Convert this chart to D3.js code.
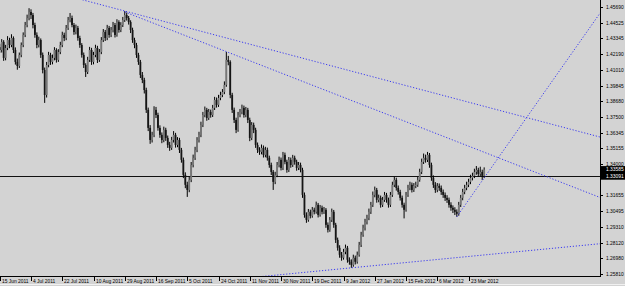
<!DOCTYPE html>
<html>
<head>
<meta charset="utf-8">
<script src="https://cdn.jsdelivr.net/npm/d3@7/dist/d3.min.js"></script>
<style>
  body { margin: 0; background: #d3d3d3; }
  svg { display: block; }
  .axis text { font-family: "Liberation Sans", Arial, sans-serif; font-size: 4.9px; fill: #000; }
</style>
</head>
<body>
<script>
// date labels, one every 16 bars
var dateLabels = ["15 Jun 2011", "4 Jul 2011", "22 Jul 2011", "10 Aug 2011", "29 Aug 2011",
    "16 Sep 2011", "5 Oct 2011", "24 Oct 2011", "11 Nov 2011", "30 Nov 2011", "19 Dec 2011",
    "9 Jan 2012", "27 Jan 2012", "15 Feb 2012", "6 Mar 2012", "23 Mar 2012"];
var barsPerLabel = 16;

var priceTicks = [1.45690, 1.44525, 1.43345, 1.42190, 1.41010, 1.39845, 1.38680, 1.37500,
    1.36345, 1.35155, 1.34000, 1.31655, 1.30495, 1.29310, 1.28120, 1.26980, 1.25810];

var bidPrice = 1.33585;
var hlinePrice = 1.33091;

// daily candles [open, high, low, close]
var candles = [
[1.4270,1.4295,1.4228,1.4249],[1.4249,1.4330,1.4230,1.4309],[1.4309,1.4322,1.4168,1.4190],[1.4190,1.4287,1.4172,1.4264],
[1.4264,1.4352,1.4248,1.4323],[1.4323,1.4340,1.4262,1.4286],[1.4286,1.4366,1.4270,1.4338],[1.4338,1.4350,1.4226,1.4249],
[1.4249,1.4268,1.4140,1.4160],[1.4160,1.4185,1.4102,1.4130],[1.4130,1.4230,1.4115,1.4212],[1.4212,1.4305,1.4195,1.4286],
[1.4286,1.4380,1.4270,1.4361],[1.4361,1.4458,1.4345,1.4435],[1.4435,1.4512,1.4418,1.4487],[1.4487,1.4560,1.4470,1.4532],
[1.4532,1.4552,1.4480,1.4509],[1.4509,1.4525,1.4410,1.4435],[1.4435,1.4452,1.4340,1.4361],[1.4361,1.4380,1.4262,1.4286],
[1.4286,1.4348,1.4268,1.4323],[1.4323,1.4335,1.4190,1.4212],[1.4212,1.4230,1.4075,1.4100],[1.4100,1.4118,1.3855,1.3914],
[1.3914,1.4160,1.3895,1.4137],[1.4137,1.4235,1.4120,1.4212],[1.4212,1.4228,1.4138,1.4160],[1.4160,1.4215,1.4142,1.4190],
[1.4190,1.4270,1.4172,1.4249],[1.4249,1.4262,1.4155,1.4175],[1.4175,1.4255,1.4160,1.4234],[1.4234,1.4310,1.4218,1.4286],
[1.4286,1.4385,1.4270,1.4361],[1.4361,1.4378,1.4315,1.4338],[1.4338,1.4435,1.4322,1.4413],[1.4413,1.4495,1.4398,1.4472],
[1.4472,1.4524,1.4455,1.4487],[1.4487,1.4505,1.4418,1.4435],[1.4435,1.4450,1.4362,1.4383],[1.4383,1.4438,1.4365,1.4413],
[1.4413,1.4428,1.4318,1.4338],[1.4338,1.4355,1.4265,1.4286],[1.4286,1.4300,1.4192,1.4212],[1.4212,1.4230,1.4115,1.4137],
[1.4137,1.4150,1.4048,1.4085],[1.4085,1.4198,1.4070,1.4175],[1.4175,1.4272,1.4160,1.4249],[1.4249,1.4265,1.4138,1.4160],
[1.4160,1.4235,1.4142,1.4212],[1.4212,1.4288,1.4195,1.4264],[1.4264,1.4280,1.4152,1.4175],[1.4175,1.4256,1.4160,1.4234],
[1.4234,1.4345,1.4218,1.4323],[1.4323,1.4405,1.4308,1.4383],[1.4383,1.4398,1.4316,1.4338],[1.4338,1.4436,1.4322,1.4413],
[1.4413,1.4428,1.4340,1.4361],[1.4361,1.4420,1.4345,1.4398],[1.4398,1.4458,1.4380,1.4435],[1.4435,1.4450,1.4342,1.4361],
[1.4361,1.4478,1.4348,1.4457],[1.4457,1.4470,1.4378,1.4398],[1.4398,1.4456,1.4382,1.4435],[1.4435,1.4495,1.4420,1.4472],
[1.4472,1.4539,1.4458,1.4509],[1.4509,1.4528,1.4468,1.4487],[1.4487,1.4502,1.4438,1.4457],[1.4457,1.4470,1.4375,1.4398],
[1.4398,1.4415,1.4302,1.4323],[1.4323,1.4340,1.4262,1.4286],[1.4286,1.4302,1.4190,1.4212],[1.4212,1.4228,1.4138,1.4160],
[1.4160,1.4175,1.4040,1.4063],[1.4063,1.4085,1.4002,1.4026],[1.4026,1.4042,1.3925,1.3951],[1.3951,1.3968,1.3780,1.3803],
[1.3803,1.3820,1.3645,1.3669],[1.3669,1.3690,1.3550,1.3579],[1.3579,1.3640,1.3560,1.3617],[1.3617,1.3830,1.3600,1.3803],
[1.3803,1.3825,1.3742,1.3765],[1.3765,1.3782,1.3648,1.3669],[1.3669,1.3688,1.3595,1.3617],[1.3617,1.3635,1.3555,1.3579],
[1.3579,1.3678,1.3562,1.3654],[1.3654,1.3670,1.3572,1.3594],[1.3594,1.3612,1.3520,1.3542],[1.3542,1.3565,1.3498,1.3520],
[1.3520,1.3602,1.3505,1.3579],[1.3579,1.3645,1.3560,1.3617],[1.3617,1.3632,1.3522,1.3542],[1.3542,1.3600,1.3525,1.3579],
[1.3579,1.3595,1.3482,1.3505],[1.3505,1.3520,1.3410,1.3431],[1.3431,1.3448,1.3295,1.3319],[1.3319,1.3338,1.3220,1.3245],
[1.3245,1.3268,1.3155,1.3207],[1.3207,1.3305,1.3190,1.3282],[1.3282,1.3415,1.3265,1.3393],[1.3393,1.3470,1.3375,1.3446],
[1.3446,1.3528,1.3430,1.3505],[1.3505,1.3600,1.3488,1.3579],[1.3579,1.3640,1.3560,1.3617],[1.3617,1.3715,1.3600,1.3691],
[1.3691,1.3788,1.3675,1.3765],[1.3765,1.3828,1.3748,1.3803],[1.3803,1.3818,1.3722,1.3743],[1.3743,1.3810,1.3728,1.3788],
[1.3788,1.3805,1.3745,1.3765],[1.3765,1.3840,1.3750,1.3818],[1.3818,1.3900,1.3802,1.3877],[1.3877,1.3895,1.3820,1.3840],
[1.3840,1.3915,1.3825,1.3892],[1.3892,1.3938,1.3875,1.3914],[1.3914,1.3958,1.3898,1.3936],[1.3936,1.4015,1.3920,1.3989],
[1.3989,1.4234,1.3975,1.4175],[1.4175,1.4205,1.4135,1.4160],[1.4160,1.4172,1.3890,1.3914],[1.3914,1.3930,1.3780,1.3803],
[1.3803,1.3820,1.3705,1.3728],[1.3728,1.3745,1.3630,1.3654],[1.3654,1.3788,1.3640,1.3765],[1.3765,1.3810,1.3748,1.3788],
[1.3788,1.3842,1.3770,1.3818],[1.3818,1.3835,1.3745,1.3765],[1.3765,1.3825,1.3748,1.3803],[1.3803,1.3818,1.3705,1.3728],
[1.3728,1.3745,1.3570,1.3594],[1.3594,1.3712,1.3578,1.3691],[1.3691,1.3708,1.3630,1.3654],[1.3654,1.3670,1.3520,1.3542],
[1.3542,1.3560,1.3482,1.3505],[1.3505,1.3525,1.3468,1.3490],[1.3490,1.3545,1.3472,1.3520],[1.3520,1.3538,1.3448,1.3468],
[1.3468,1.3528,1.3450,1.3505],[1.3505,1.3522,1.3425,1.3446],[1.3446,1.3462,1.3372,1.3393],[1.3393,1.3410,1.3318,1.3341],
[1.3341,1.3355,1.3207,1.3267],[1.3267,1.3342,1.3250,1.3319],[1.3319,1.3415,1.3302,1.3393],[1.3393,1.3455,1.3375,1.3431],
[1.3431,1.3448,1.3352,1.3371],[1.3371,1.3490,1.3355,1.3468],[1.3468,1.3485,1.3398,1.3416],[1.3416,1.3432,1.3335,1.3356],
[1.3356,1.3452,1.3340,1.3431],[1.3431,1.3448,1.3372,1.3393],[1.3393,1.3468,1.3378,1.3446],[1.3446,1.3462,1.3395,1.3416],
[1.3416,1.3432,1.3350,1.3371],[1.3371,1.3415,1.3355,1.3393],[1.3393,1.3410,1.3338,1.3356],[1.3356,1.3372,1.3148,1.3170],
[1.3170,1.3188,1.3000,1.3021],[1.3021,1.3040,1.2962,1.2984],[1.2984,1.3065,1.2970,1.3044],[1.3044,1.3060,1.2995,1.3014],
[1.3014,1.3080,1.3000,1.3059],[1.3059,1.3075,1.3025,1.3044],[1.3044,1.3120,1.3030,1.3096],[1.3096,1.3110,1.3002,1.3021],
[1.3021,1.3095,1.3008,1.3074],[1.3074,1.3090,1.3025,1.3044],[1.3044,1.3080,1.3028,1.3059],[1.3059,1.3072,1.2925,1.2947],
[1.2947,1.2965,1.2890,1.2910],[1.2910,1.3005,1.2895,1.2984],[1.2984,1.3068,1.2968,1.3044],[1.3044,1.3058,1.2925,1.2947],
[1.2947,1.2962,1.2812,1.2835],[1.2835,1.2852,1.2755,1.2776],[1.2776,1.2795,1.2702,1.2724],[1.2724,1.2745,1.2680,1.2702],
[1.2702,1.2768,1.2688,1.2746],[1.2746,1.2800,1.2728,1.2776],[1.2776,1.2790,1.2665,1.2687],[1.2687,1.2705,1.2650,1.2672],
[1.2672,1.2690,1.2627,1.2649],[1.2649,1.2725,1.2635,1.2702],[1.2702,1.2718,1.2652,1.2672],[1.2672,1.2748,1.2658,1.2724],
[1.2724,1.2820,1.2710,1.2798],[1.2798,1.2895,1.2782,1.2873],[1.2873,1.2948,1.2858,1.2925],[1.2925,1.2992,1.2905,1.2969],
[1.2969,1.3022,1.2950,1.2999],[1.2999,1.3068,1.2982,1.3044],[1.3044,1.3118,1.3028,1.3096],[1.3096,1.3195,1.3080,1.3170],
[1.3170,1.3232,1.3152,1.3207],[1.3207,1.3222,1.3112,1.3133],[1.3133,1.3172,1.3115,1.3148],[1.3148,1.3165,1.3075,1.3096],
[1.3096,1.3155,1.3080,1.3133],[1.3133,1.3192,1.3118,1.3170],[1.3170,1.3185,1.3112,1.3133],[1.3133,1.3150,1.3075,1.3096],
[1.3096,1.3192,1.3080,1.3170],[1.3170,1.3268,1.3155,1.3245],[1.3245,1.3305,1.3228,1.3282],[1.3282,1.3298,1.3202,1.3222],
[1.3222,1.3240,1.3172,1.3192],[1.3192,1.3208,1.3128,1.3148],[1.3148,1.3165,1.3075,1.3096],[1.3096,1.3112,1.2995,1.3059],
[1.3059,1.3192,1.3045,1.3170],[1.3170,1.3245,1.3155,1.3222],[1.3222,1.3268,1.3205,1.3245],[1.3245,1.3262,1.3188,1.3207],
[1.3207,1.3258,1.3192,1.3237],[1.3237,1.3268,1.3220,1.3245],[1.3245,1.3305,1.3230,1.3282],[1.3282,1.3365,1.3268,1.3341],
[1.3341,1.3440,1.3325,1.3416],[1.3416,1.3478,1.3400,1.3446],[1.3446,1.3470,1.3410,1.3431],[1.3431,1.3490,1.3415,1.3468],
[1.3468,1.3482,1.3372,1.3393],[1.3393,1.3410,1.3275,1.3297],[1.3297,1.3315,1.3222,1.3245],[1.3245,1.3265,1.3185,1.3207],
[1.3207,1.3258,1.3190,1.3237],[1.3237,1.3255,1.3200,1.3222],[1.3222,1.3240,1.3170,1.3192],[1.3192,1.3210,1.3148,1.3170],
[1.3170,1.3188,1.3125,1.3148],[1.3148,1.3168,1.3110,1.3133],[1.3133,1.3150,1.3075,1.3096],[1.3096,1.3115,1.3052,1.3074],
[1.3074,1.3092,1.3035,1.3059],[1.3059,1.3078,1.3020,1.3044],[1.3044,1.3062,1.3007,1.3029],[1.3029,1.3118,1.3015,1.3096],
[1.3096,1.3170,1.3080,1.3148],[1.3148,1.3215,1.3130,1.3192],[1.3192,1.3245,1.3175,1.3222],[1.3222,1.3268,1.3205,1.3245],
[1.3245,1.3290,1.3228,1.3267],[1.3267,1.3320,1.3250,1.3297],[1.3297,1.3335,1.3278,1.3312],[1.3312,1.3365,1.3295,1.3341],
[1.3341,1.3385,1.3320,1.3356],[1.3356,1.3372,1.3305,1.3326],[1.3326,1.3380,1.3310,1.3341],[1.3341,1.3358,1.3280,1.3312],
[1.3312,1.3375,1.3295,1.3358]
];

// trend lines: two anchors (bar index, price); ray = starts at first anchor
var trendLines = [
    { b1: 64, p1: 1.4539, b2: 307, p2: 1.3602, ray: false },
    { b1: 64, p1: 1.4532, b2: 116.5, p2: 1.4234, ray: true },
    { b1: 180, p1: 1.2627, b2: 307, p2: 1.2806, ray: false },
    { b1: 234, p1: 1.3007, b2: 307, p2: 1.4517, ray: true }
];

var W = 625, H = 286,
    plotW = 600, plotH = 276;

var x = d3.scaleLinear().domain([0, 307.3]).range([-0.25, plotW]);
var y = d3.scaleLinear().domain([1.25810, 1.45690]).range([274, 7]);

var svg = d3.select("body").append("svg")
    .attr("width", W)
    .attr("height", H);

svg.append("rect")
    .attr("width", W).attr("height", H)
    .attr("fill", "#d3d3d3");

svg.append("clipPath").attr("id", "plot")
    .append("rect").attr("width", plotW).attr("height", plotH);

var plot = svg.append("g").attr("clip-path", "url(#plot)");

// horizontal line
plot.append("line")
    .attr("x1", 0).attr("x2", plotW)
    .attr("y1", Math.round(y(hlinePrice)) + 0.5).attr("y2", Math.round(y(hlinePrice)) + 0.5)
    .attr("stroke", "#111").attr("stroke-width", 1);

// candles
var bars = plot.selectAll(".bar")
    .data(candles)
    .enter().append("g")
    .attr("class", "bar");

bars.append("line")
    .attr("x1", function(d, i) { return x(i); })
    .attr("x2", function(d, i) { return x(i); })
    .attr("y1", function(d) { return y(d[1]); })
    .attr("y2", function(d) { return y(d[2]); })
    .attr("stroke", "#000")
    .attr("stroke-width", 1);

bars.append("rect")
    .attr("x", function(d, i) { return x(i) - 0.9; })
    .attr("width", 1.8)
    .attr("y", function(d) { return y(Math.max(d[0], d[3])); })
    .attr("height", function(d) { return Math.max(0.8, Math.abs(y(d[0]) - y(d[3]))); })
    .attr("fill", function(d) { return d[3] >= d[0] ? "#777" : "#151515"; });

// trend lines
trendLines.forEach(function(t) {
    var slope = (t.p2 - t.p1) / (t.b2 - t.b1);
    var bStart = t.ray ? t.b1 : -20;
    var bEnd = 330;
    plot.append("line")
        .attr("x1", x(bStart)).attr("y1", y(t.p1 + slope * (bStart - t.b1)))
        .attr("x2", x(bEnd)).attr("y2", y(t.p1 + slope * (bEnd - t.b1)))
        .attr("stroke", "#3c3cf0")
        .attr("stroke-width", 1)
        .attr("stroke-dasharray", "1.2,1.8");
});

// right price axis
var yAxis = svg.append("g").attr("class", "axis");
yAxis.append("line")
    .attr("x1", plotW + 0.5).attr("x2", plotW + 0.5)
    .attr("y1", 0).attr("y2", plotH + 0.5)
    .attr("stroke", "#000");
var yt = yAxis.selectAll(".yt").data(priceTicks).enter().append("g")
    .attr("transform", function(d) { return "translate(0," + Math.round(y(d)) + ")"; });
yt.append("line")
    .attr("x1", plotW).attr("x2", plotW + 3)
    .attr("y1", 0.5).attr("y2", 0.5)
    .attr("stroke", "#000");
yt.append("text")
    .attr("x", plotW + 6).attr("y", 2)
    .text(function(d) { return d.toFixed(5); });

// price boxes for bid and horizontal line
[bidPrice, hlinePrice].forEach(function(p) {
    var g = yAxis.append("g").attr("transform", "translate(0," + y(p) + ")");
    g.append("rect")
        .attr("x", plotW + 1).attr("y", -3.5)
        .attr("width", W - plotW).attr("height", 7)
        .attr("fill", "#000");
    g.append("text")
        .attr("x", plotW + 6).attr("y", 1.8)
        .style("fill", "#fff")
        .text(p.toFixed(5));
});

// bottom date axis
var xAxis = svg.append("g").attr("class", "axis");
xAxis.append("line")
    .attr("x1", 0).attr("x2", plotW + 1)
    .attr("y1", plotH + 0.5).attr("y2", plotH + 0.5)
    .attr("stroke", "#000");
var xt = xAxis.selectAll(".xt").data(dateLabels).enter().append("g")
    .attr("transform", function(d, i) { return "translate(" + Math.round(x(i * barsPerLabel)) + ",0)"; });
xt.append("line")
    .attr("x1", 0.5).attr("x2", 0.5)
    .attr("y1", plotH + 1).attr("y2", plotH + 5)
    .attr("stroke", "#000");
xt.append("text")
    .attr("x", 2).attr("y", plotH + 6.5)
    .text(function(d) { return d; });

svg.append("line")
    .attr("x1", 0).attr("x2", W)
    .attr("y1", H - 1.5).attr("y2", H - 1.5)
    .attr("stroke", "#f0f0f0");
</script>
</body>
</html>
